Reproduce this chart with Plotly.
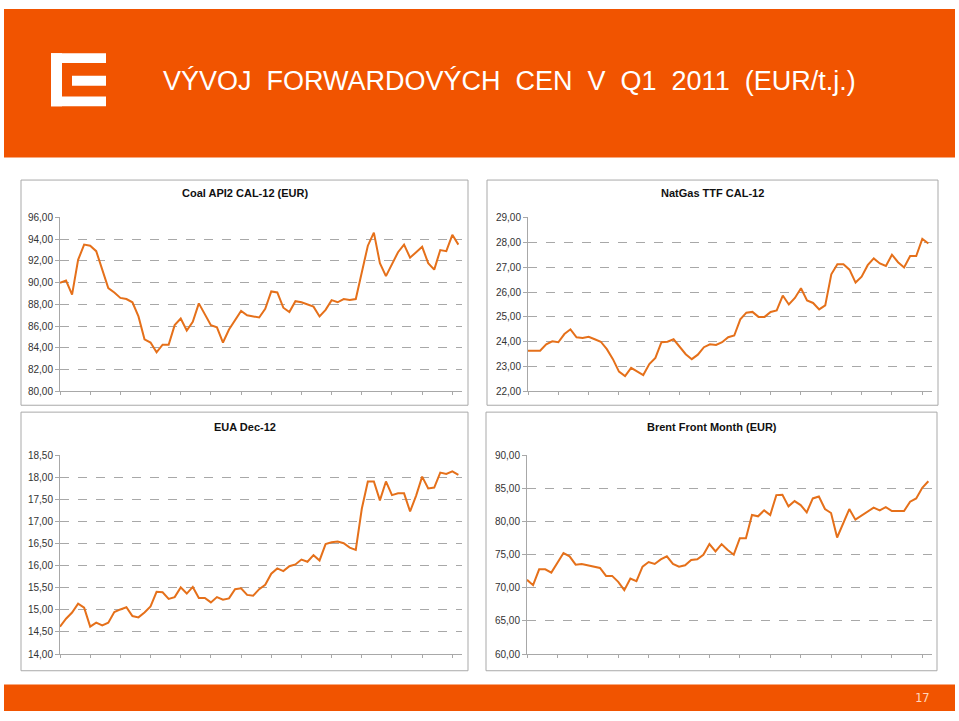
import plotly.graph_objects as go

W, H = 959, 721

coal = [90.0, 90.2, 88.9, 92.1, 93.5, 93.4, 92.9, 91.2, 89.5, 89.1, 88.6, 88.5, 88.2, 86.9, 84.8,
        84.5, 83.6, 84.3, 84.3, 86.1, 86.7, 85.6, 86.4, 88.1, 87.1, 86.1, 85.9, 84.5, 85.7, 86.6,
        87.4, 87.0, 86.9, 86.8, 87.6, 89.2, 89.1, 87.7, 87.3, 88.3, 88.2, 88.0, 87.8, 86.9, 87.5,
        88.4, 88.2, 88.5, 88.4, 88.5, 90.9, 93.4, 94.6, 91.8, 90.6, 91.7, 92.8, 93.5, 92.3, 92.8,
        93.3, 91.8, 91.2, 93.0, 92.9, 94.4, 93.5]

natgas = [23.64, 23.64, 23.64, 23.90, 24.02, 23.98, 24.31, 24.50, 24.18, 24.15, 24.20, 24.10, 24.00,
          23.70, 23.30, 22.80, 22.62, 22.95, 22.80, 22.66, 23.10, 23.35, 23.98, 24.00, 24.10, 23.80,
          23.50, 23.30, 23.48, 23.78, 23.90, 23.87, 23.98, 24.18, 24.25, 24.90, 25.17, 25.20, 25.00,
          25.00, 25.20, 25.26, 25.86, 25.50, 25.76, 26.15, 25.66, 25.56, 25.30, 25.46, 26.71, 27.12,
          27.12, 26.90, 26.38, 26.62, 27.08, 27.35, 27.15, 27.05, 27.50, 27.20, 26.99, 27.45, 27.45,
          28.14, 27.95]

eua = [14.62, 14.80, 14.94, 15.14, 15.05, 14.62, 14.71, 14.65, 14.71, 14.95, 15.01, 15.06, 14.86,
       14.83, 14.94, 15.08, 15.41, 15.40, 15.25, 15.29, 15.51, 15.37, 15.52, 15.27, 15.27, 15.17,
       15.29, 15.23, 15.26, 15.47, 15.49, 15.34, 15.32, 15.47, 15.57, 15.82, 15.94, 15.88, 15.99,
       16.03, 16.14, 16.09, 16.24, 16.12, 16.49, 16.53, 16.55, 16.51, 16.41, 16.36, 17.29, 17.91,
       17.91, 17.48, 17.91, 17.60, 17.64, 17.64, 17.23, 17.59, 18.02, 17.75, 17.77, 18.11, 18.08,
       18.14, 18.06]

brent = [71.2, 70.4, 72.8, 72.8, 72.3, 73.8, 75.25, 74.75, 73.5, 73.6, 73.4, 73.3, 73.0, 71.8, 71.8,
         70.9, 69.65, 71.4, 71.0, 73.2, 73.9, 73.6, 74.3, 74.75, 73.6, 73.2, 73.4, 74.2, 74.3, 75.0,
         76.6, 75.5, 76.6, 75.7, 75.0, 77.5, 77.5, 81.0, 80.8, 81.7, 81.0, 84.0, 84.05, 82.3, 83.1,
         82.5, 81.4, 83.5, 83.8, 81.9, 81.3, 77.6, 79.7, 81.9, 80.3, 80.9, 81.6, 82.1, 81.7, 82.2,
         81.6, 81.6, 81.6, 83.0, 83.5, 85.1, 86.1]

titles = ["Coal API2 CAL-12 (EUR)", "NatGas TTF CAL-12", "EUA Dec-12", "Brent Front Month (EUR)"]
yranges = [(80, 96), (22, 29), (14, 18.5), (60, 90)]
ydticks = [2, 1, 0.5, 5]
header_title = "VÝVOJ\u00a0 FORWARDOVÝCH\u00a0 CEN\u00a0 V\u00a0 Q1\u00a0 2011\u00a0 (EUR/t.j.)"
page_number = "17"

ORANGE = "rgb(241,84,0)"
LINE = "#E5701A"
GRID = "#A8A8A8"
BORDER = "#A9A9A9"
FONT = "Liberation Sans, Arial, sans-serif"

def px(x):
    return x / W

def py(y):
    return 1 - y / H

# plot areas in pixels: (x0, x1, ytop, ybottom)
areas = [(60, 462, 215, 392), (528, 932, 215, 392), (60, 462, 457, 659), (527, 932, 457, 659)]
panels = [(21, 177, 468, 406), (487, 177, 938, 406), (21, 413, 468, 676), (486, 413, 937, 676)]
title_y = [190, 190, 428, 428]

series = [coal, natgas, eua, brent]

fig = go.Figure()
layout = dict(
    width=W, height=H, margin=dict(l=0, r=0, t=0, b=0),
    paper_bgcolor="white", plot_bgcolor="rgba(0,0,0,0)",
    showlegend=False, separators=", ",
    font=dict(family=FONT, color="#333333"),
)
shapes = []
annotations = []

for i, (vals, (x0, x1, yt, yb), yr, dt) in enumerate(zip(series, areas, yranges, ydticks)):
    n = i + 1
    xa = "x" if n == 1 else f"x{n}"
    ya = "y" if n == 1 else f"y{n}"
    fig.add_trace(go.Scatter(x=list(range(len(vals))), y=vals, mode="lines",
                             line=dict(color=LINE, width=2), xaxis=xa, yaxis=ya,
                             hoverinfo="skip"))
    layout["xaxis" if n == 1 else f"xaxis{n}"] = dict(
        domain=[px(x0), px(x1)], anchor=ya, range=[0, 66.6],
        showgrid=False, zeroline=False, showticklabels=False,
        showline=True, linecolor=GRID, linewidth=1,
        ticks="outside", tick0=0, dtick=5, ticklen=3, tickcolor=GRID,
    )
    layout["yaxis" if n == 1 else f"yaxis{n}"] = dict(
        domain=[py(yb), py(yt)], anchor=xa, range=list(yr),
        tick0=yr[0], dtick=dt, tickformat=".2f",
        showgrid=True, gridcolor=GRID, griddash="dash", gridwidth=1,
        zeroline=False, showline=True, linecolor=GRID, linewidth=1,
        ticks="outside", ticklen=4, tickcolor=GRID,
        tickfont=dict(size=10, color="#333333", family=FONT),
    )

for (x0, y0, x1, y1) in panels:
    shapes.append(dict(type="rect", xref="paper", yref="paper",
                       x0=px(x0), x1=px(x1), y0=py(y1), y1=py(y0),
                       line=dict(color=BORDER, width=1), fillcolor="white", layer="below"))

# header & footer bars
shapes.append(dict(type="rect", xref="paper", yref="paper", x0=px(4), x1=px(955), y0=py(154), y1=py(3),
                   line=dict(width=0), fillcolor=ORANGE, layer="below"))
shapes.append(dict(type="rect", xref="paper", yref="paper", x0=px(4), x1=px(955), y0=py(717), y1=py(690),
                   line=dict(width=0), fillcolor=ORANGE, layer="below"))

# logo
logo_rects = [(51, 48, 62, 102), (51, 48, 106, 58), (51, 92, 106, 102), (72, 71, 106, 81)]
for (a, b, c, d) in logo_rects:
    shapes.append(dict(type="rect", xref="paper", yref="paper", x0=px(a), x1=px(c), y0=py(d), y1=py(b),
                       line=dict(width=0), fillcolor="white", layer="above"))

annotations.append(dict(text=header_title, xref="paper", yref="paper", x=px(161), y=py(76),
                        xanchor="left", yanchor="middle", showarrow=False,
                        font=dict(size=27, color="white", family=FONT)))
annotations.append(dict(text=page_number, xref="paper", yref="paper", x=px(922), y=py(704),
                        xanchor="center", yanchor="middle", showarrow=False,
                        font=dict(size=12, color="#FFD6BC", family="DejaVu Sans Mono, monospace")))

for t, (x0, y0, x1, y1), ty in zip(titles, panels, title_y):
    annotations.append(dict(text=f"<b>{t}</b>", xref="paper", yref="paper", x=px((x0 + x1) / 2), y=py(ty),
                            xanchor="center", yanchor="middle", showarrow=False,
                            font=dict(size=11, color="#111111", family=FONT)))

layout["shapes"] = shapes
layout["annotations"] = annotations
fig.update_layout(**layout)
fig.write_html("out.html")
